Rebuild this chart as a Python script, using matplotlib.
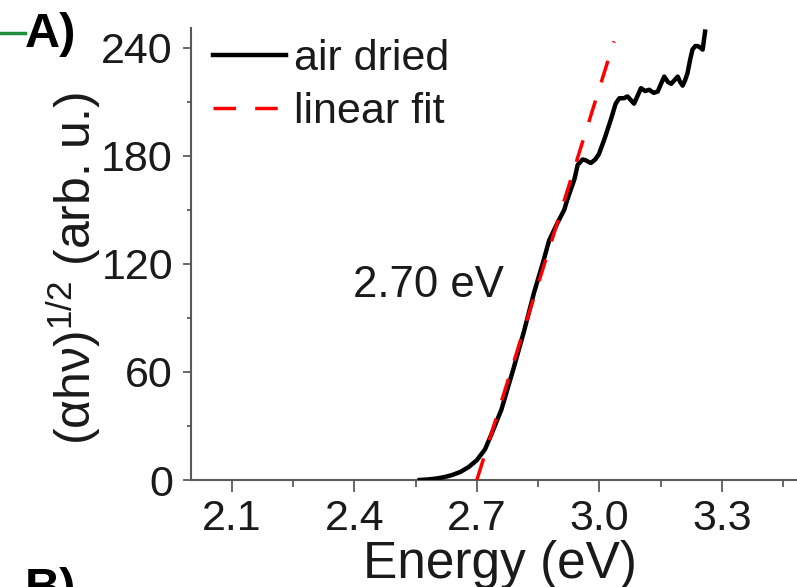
import matplotlib
matplotlib.use("Agg")
import matplotlib.pyplot as plt
from matplotlib.lines import Line2D
from matplotlib.ticker import MultipleLocator

plt.rcParams["font.family"] = ["Liberation Sans", "DejaVu Sans"]
plt.rcParams["mathtext.fontset"] = "custom"
plt.rcParams["mathtext.rm"] = "Liberation Sans"
plt.rcParams["mathtext.it"] = "Liberation Sans:italic"

## DATA

energy = [2.56, 2.58, 2.60, 2.62, 2.64, 2.66, 2.68, 2.70, 2.72, 2.735,
          2.76, 2.79, 2.816, 2.84, 2.861, 2.877, 2.898, 2.914, 2.922, 2.939,
          2.947, 2.959, 2.967, 2.979, 2.99, 2.999, 3.012, 3.028, 3.04, 3.049,
          3.06, 3.069, 3.077, 3.085, 3.093, 3.102, 3.112, 3.122, 3.133, 3.143,
          3.151, 3.159, 3.168, 3.176, 3.184, 3.192, 3.198, 3.204, 3.21, 3.216,
          3.222, 3.228, 3.235, 3.241, 3.248, 3.253, 3.256, 3.259]
signal = [0, 0.3, 0.8, 1.6, 2.8, 4.5, 7.2, 11, 17, 25,
          39, 62, 83, 104, 120, 133, 143, 150, 156, 167,
          175, 178, 177.5, 176, 178, 181, 189, 200, 209, 212,
          212, 213, 211, 209, 213, 217.6, 216, 216.7, 215, 215.7,
          220, 224, 221, 220, 222, 224, 221, 219, 222, 226,
          233, 239, 241, 241, 240, 239, 244, 249]

fit_energy = [2.70, 3.036]
fit_slope = 725.0
fit_signal = [fit_slope * (e - fit_energy[0]) for e in fit_energy]

gap_label = "2.70 eV"
xticks = [2.1, 2.4, 2.7, 3.0, 3.3]
yticks = [0, 60, 120, 180, 240]

## PLOT

W, H = 797, 587
fig = plt.figure(figsize=(W / 100, H / 100), dpi=100)
ax = fig.add_axes([191 / W, (H - 480) / H, 612.5 / W, 452 / H])

ax.plot(energy, signal, color="black", lw=3.2, solid_joinstyle="round",
        label="air dried", zorder=3)
ax.plot(fit_energy, fit_signal, color="#ff0000", lw=2.5, dashes=(6.5, 5.5),
        label="linear fit", zorder=4)

ax.set_xlim(2.0, 3.5)
ax.set_ylim(0, 251)
ax.set_xticks(xticks)
ax.set_xticklabels([f"{t:.1f}" for t in xticks])
ax.set_yticks(yticks)
ax.xaxis.set_minor_locator(MultipleLocator(0.15))
ax.yaxis.set_minor_locator(MultipleLocator(30))

spine_col = "#5a5a5a"
for side in ["top", "right"]:
    ax.spines[side].set_visible(False)
for side in ["left", "bottom"]:
    ax.spines[side].set_color(spine_col)
    ax.spines[side].set_linewidth(1.5)

ax.tick_params(axis="both", which="both", direction="out", color=spine_col,
               width=1.3, labelsize=31, labelcolor="#1a1a1a")
ax.tick_params(axis="y", which="major", length=6, pad=7)
ax.tick_params(axis="y", which="minor", length=3)
ax.tick_params(axis="x", which="major", length=8.5, pad=5)
ax.tick_params(axis="x", which="minor", length=5)

ax.text(2.396, 101.7, gap_label, fontsize=31.5, ha="left", va="baseline",
        color="#1a1a1a")

leg = ax.legend(frameon=False, fontsize=31, loc="upper left",
                bbox_to_anchor=(0.036, 0.975), borderaxespad=0, borderpad=0,
                handlelength=1.7, handletextpad=0.18, labelspacing=0.3)
for t in leg.get_texts():
    t.set_color("#1a1a1a")

fig.text(500 / W, (H - 578) / H, "Energy (eV)", fontsize=37, ha="center",
         va="baseline", color="#1a1a1a")
fig.text(74 / W, (H - 268) / H, r"(αhν)$^{\mathit{1/2}}$ (arb. u.)",
         fontsize=36, rotation=90, ha="center", va="center", color="#1a1a1a")

# panel letters and the green marker line on the left
fig.text(25 / W, (H - 47) / H, "A)", fontsize=35, fontweight="bold",
         ha="left", va="baseline")
fig.text(25 / W, (H - 602) / H, "B)", fontsize=35, fontweight="bold",
         ha="left", va="baseline")
fig.add_artist(Line2D([0, 25 / W], [(H - 33) / H, (H - 33) / H],
                      color="#1f8f3f", lw=2.5, transform=fig.transFigure))

fig.savefig("out.png", dpi=100)
